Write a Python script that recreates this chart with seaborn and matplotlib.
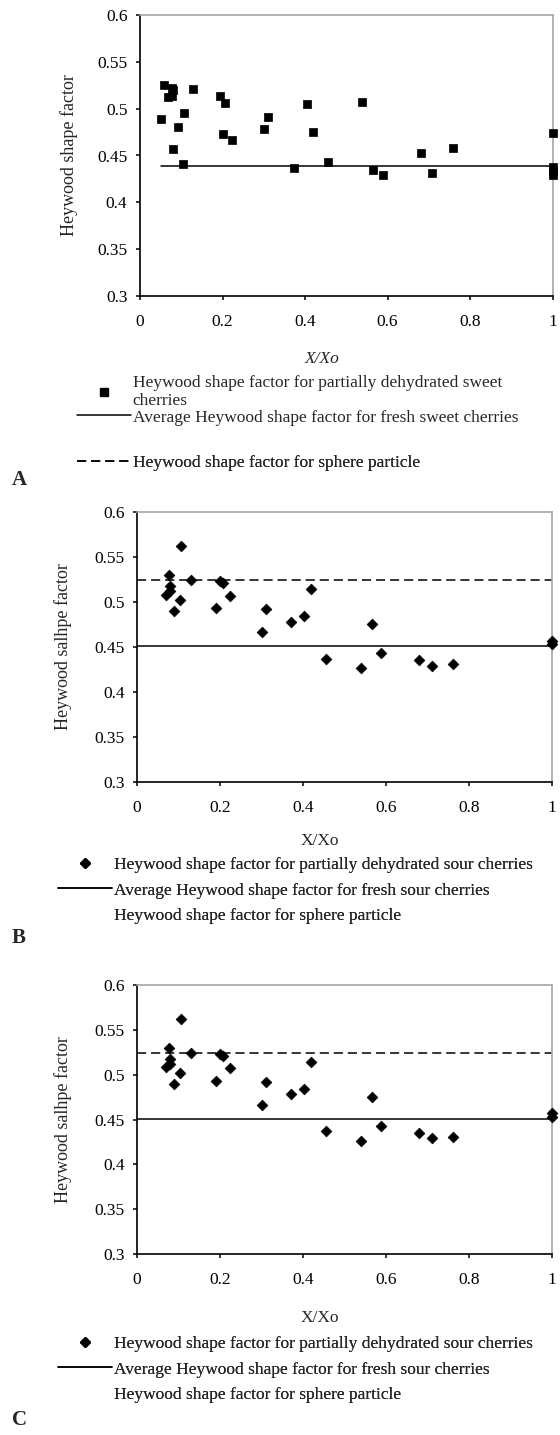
import matplotlib
matplotlib.use('Agg')
import matplotlib.pyplot as plt
from matplotlib.lines import Line2D
from matplotlib.ticker import FuncFormatter
import pandas as pd
import seaborn as sns

# panel A: sweet cherries
sweet_x = [0.052, 0.058, 0.077, 0.081, 0.069, 0.077, 0.081, 0.093, 0.107, 0.103,
           0.129, 0.194, 0.206, 0.200, 0.222, 0.300, 0.311, 0.374, 0.405, 0.420,
           0.456, 0.537, 0.564, 0.588, 0.681, 0.707, 0.759, 1.0, 1.0, 1.0, 1.0]
sweet_y = [0.489, 0.525, 0.522, 0.520, 0.512, 0.514, 0.457, 0.480, 0.495, 0.441,
           0.521, 0.514, 0.506, 0.473, 0.467, 0.478, 0.491, 0.437, 0.505, 0.475,
           0.443, 0.507, 0.435, 0.429, 0.453, 0.431, 0.458, 0.474, 0.438, 0.433, 0.429]
sweet_fresh_x = [0.05, 1.0]
sweet_fresh_y = [0.439, 0.439]

# panels B and C: sour cherries
sour_x = [0.106, 0.078, 0.079, 0.080, 0.071, 0.090, 0.103, 0.130, 0.190, 0.199,
          0.207, 0.223, 0.302, 0.310, 0.371, 0.403, 0.419, 0.455, 0.539, 0.565,
          0.587, 0.679, 0.711, 0.760, 1.0, 1.0]
sour_y = [0.562, 0.530, 0.518, 0.512, 0.508, 0.490, 0.502, 0.524, 0.493, 0.523,
          0.521, 0.507, 0.466, 0.492, 0.478, 0.484, 0.514, 0.437, 0.426, 0.475,
          0.443, 0.435, 0.429, 0.431, 0.457, 0.453]
sour_fresh_x = [0.0, 1.0]
sour_fresh_y = [0.451, 0.451]
sphere_x = [0.0, 1.0]
sphere_y = [0.524, 0.524]

x_ticks = [0, 0.2, 0.4, 0.6, 0.8, 1]
y_ticks = [0.3, 0.35, 0.4, 0.45, 0.5, 0.55, 0.6]

sweet_labels = ['Heywood shape factor for partially dehydrated sweet\ncherries',
                'Average Heywood shape factor for fresh sweet cherries',
                'Heywood shape factor for sphere particle']
sour_labels = ['Heywood shape factor for partially dehydrated sour cherries',
               'Average Heywood shape factor for fresh sour cherries',
               'Heywood shape factor for sphere particle']

sns.set_style('white')
plt.rcParams['font.family'] = ['Liberation Serif', 'DejaVu Serif']

SERIF = 'Liberation Serif'
DASH = (0, (6, 3.2))

fig = plt.figure(figsize=(5.6, 14.35), dpi=100)


def style_axes(ax, ylabel, ylab_x, xlab_y, italic):
    ax.set_xlim(0, 1)
    ax.set_ylim(0.3, 0.6)
    ax.set_xticks(x_ticks)
    ax.set_yticks(y_ticks)
    fmt = FuncFormatter(lambda v, p: f'{v:g}')
    ax.xaxis.set_major_formatter(fmt)
    ax.yaxis.set_major_formatter(fmt)
    ax.tick_params(axis='both', direction='out', length=3, width=1.1,
                   labelsize=12.5, colors='black', bottom=True, left=True)
    ax.tick_params(axis='x', pad=10)
    ax.tick_params(axis='y', pad=6)
    for side in ['left', 'bottom']:
        ax.spines[side].set_color('black')
        ax.spines[side].set_linewidth(1.2)
    for side in ['top', 'right']:
        ax.spines[side].set_color('#a6a6a6')
        ax.spines[side].set_linewidth(1.2)
    ax.set_ylabel(ylabel, fontsize=13)
    ax.yaxis.set_label_coords(ylab_x, 0.5)
    ax.set_xlabel('X/Xo', fontsize=12.5, style='italic' if italic else 'normal')
    ax.xaxis.set_label_coords(0.44, xlab_y)
    ax.grid(False)


def add_legend(ax, handles, labels, x, y, spacing=0.53):
    leg = ax.legend(handles, labels, loc='upper left',
                    bbox_to_anchor=(x, y), bbox_transform=fig.transFigure,
                    frameon=False, fontsize=12.5, handlelength=3.1,
                    handletextpad=0.1, borderpad=0, borderaxespad=0,
                    labelspacing=spacing, scatterpoints=1)
    ax.add_artist(leg)
    return leg


# ---------- A ----------
axA = fig.add_axes([140 / 560, 1 - 296 / 1435, 412.7 / 560, 281 / 1435])
sns.scatterplot(x=sweet_x, y=sweet_y, ax=axA, marker='s', s=36, color='black',
                edgecolor='black', linewidth=0.5, clip_on=False, zorder=3)
sns.lineplot(x=sweet_fresh_x, y=sweet_fresh_y, ax=axA, color='black', lw=1.1)
style_axes(axA, 'Heywood shape factor', -0.150, -0.195, True)
hA = [Line2D([], [], ls='none', marker='s', color='black', markersize=6),
      Line2D([], [], color='black', lw=1.1),
      Line2D([], [], color='black', lw=1.1, ls=DASH)]
add_legend(axA, hA[:2], sweet_labels[:2], 77 / 560, 1 - 375 / 1435, spacing=0.0)
add_legend(axA, hA[2:], sweet_labels[2:], 77 / 560, 1 - 455 / 1435)

# ---------- B and C ----------
panels = [(1 - 781.7 / 1435, 269.7 / 1435, -0.19, 1 - 857 / 1435),
          (1 - 1254 / 1435, 269 / 1435, -0.207, 1 - 1336 / 1435)]
for bottom, height, xlab_y, leg_y in panels:
    ax = fig.add_axes([137 / 560, bottom, 415.3 / 560, height])
    sns.scatterplot(x=sour_x, y=sour_y, ax=ax, marker='D', s=30, color='black',
                    edgecolor='black', linewidth=0.5, clip_on=False, zorder=3)
    sns.lineplot(x=sour_fresh_x, y=sour_fresh_y, ax=ax, color='black', lw=1.1)
    sns.lineplot(x=sphere_x, y=sphere_y, ax=ax, color='black', lw=1.1, ls=DASH)
    style_axes(ax, 'Heywood salhpe factor', -0.156, xlab_y, False)
    hB = [Line2D([], [], ls='none', marker='D', color='black', markersize=5),
          Line2D([], [], color='black', lw=1.1),
          Line2D([], [], ls='none')]
    add_legend(ax, hB, sour_labels, 58 / 560, leg_y)

for letter, ypix in [('A', 480), ('B', 938), ('C', 1420)]:
    fig.text(12 / 560, 1 - ypix / 1435, letter, fontsize=15, fontweight='bold',
             family=SERIF, ha='left', va='center')

fig.savefig('out.png', dpi=100)
